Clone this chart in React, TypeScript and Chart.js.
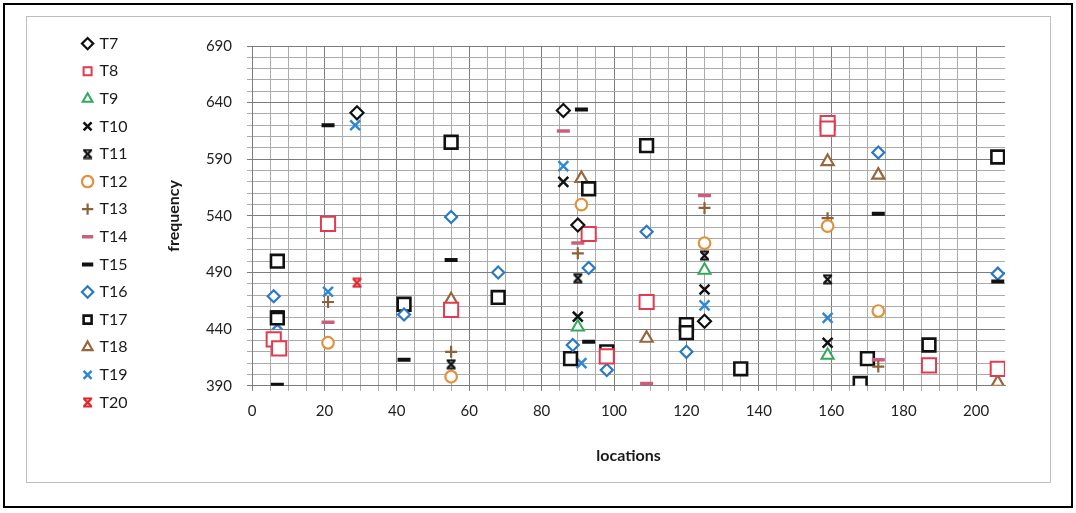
import React, { useEffect, useRef } from 'react';
import { Chart, registerables } from 'chart.js';

Chart.register(...registerables);

// ---- data (location, frequency) per series ----
const t7Loc = [29, 86, 90, 125];
const t7Freq = [631, 633, 532, 447];
const t8Loc = [6, 7.5, 21, 55, 93, 98, 109, 159, 159, 187, 206];
const t8Freq = [431, 423, 533, 457, 524, 416, 464, 622, 617, 408, 405];
const t9Loc = [90, 125, 159];
const t9Freq = [442, 492, 417];
const t10Loc = [86, 90, 125, 159];
const t10Freq = [570, 451, 475, 428];
const t11Loc = [55, 90, 125, 159];
const t11Freq = [409, 485, 505, 484];
const t12Loc = [21, 55, 91, 125, 159, 173];
const t12Freq = [428, 398, 550, 516, 531, 456];
const t13Loc = [21, 55, 90, 125, 159, 173];
const t13Freq = [464, 420, 507, 547, 538, 407];
const t14Loc = [21, 86, 90, 109, 125, 173];
const t14Freq = [446, 615, 516, 392, 558, 413];
const t15Loc = [7, 7, 21, 42, 55, 91, 93, 109, 173, 206];
const t15Freq = [455, 391, 620, 413, 501, 634, 429, 460, 542, 482];
const t16Loc = [6, 42, 55, 68, 88.6, 93, 98, 109, 120, 173, 206];
const t16Freq = [469, 453, 539, 490, 426, 494, 404, 526, 420, 596, 489];
const t17Loc = [7, 7, 42, 55, 68, 88, 93, 98, 109, 120, 120, 135, 168, 170, 187, 206];
const t17Freq = [500, 450, 462, 605, 468, 414, 564, 420, 602, 444, 437, 405, 392, 414, 426, 592];
const t18Loc = [55, 91, 109, 159, 173, 206];
const t18Freq = [466, 573, 432, 588, 576, 393];
const t19Loc = [7, 21, 28.5, 86, 91, 125, 159];
const t19Freq = [444, 473, 620, 584, 410, 461, 450];
const t20Loc = [29];
const t20Freq = [481];

const xTicksMin = 0;
const xTicksMax = 208;
const yTicksMin = 390;
const yTicksMax = 690;

const FONT = 'Lato, "Noto Sans", sans-serif';
const MAJOR = '#7c7c7c';
const MINOR = '#ababab';

function pts(xs: number[], ys: number[]) {
  return xs.map((x, i) => ({ x, y: ys[i] }));
}

function makeBowtie(color: string): HTMLCanvasElement {
  const c = document.createElement('canvas');
  c.width = 11;
  c.height = 11;
  const g = c.getContext('2d')!;
  g.strokeStyle = color;
  g.lineWidth = 2.4;
  g.beginPath();
  g.moveTo(2, 2);
  g.lineTo(9, 9);
  g.moveTo(9, 2);
  g.lineTo(2, 9);
  g.stroke();
  g.lineWidth = 2;
  g.beginPath();
  g.moveTo(1, 1.5);
  g.lineTo(10, 1.5);
  g.moveTo(1, 9.5);
  g.lineTo(10, 9.5);
  g.stroke();
  return c;
}

export default function App() {
  const ref = useRef<HTMLCanvasElement | null>(null);

  useEffect(() => {
    if (!ref.current) return;
    const bowBlack = makeBowtie('#111');
    const bowRed = makeBowtie('#e0202a');

    const ds = (label: string, xs: number[], ys: number[], style: any, color: string, fill: string, radius: number, bw: number) => ({
      label,
      data: pts(xs, ys),
      pointStyle: style,
      borderColor: color,
      backgroundColor: fill,
      pointRadius: radius,
      pointHoverRadius: radius,
      borderWidth: bw,
      pointBorderWidth: bw,
    });

    const chart = new Chart(ref.current, {
      type: 'scatter',
      data: {
        datasets: [
          ds('T7', t7Loc, t7Freq, 'rectRot', '#111111', '#ffffff', 6.5, 2.2),
          ds('T8', t8Loc, t8Freq, 'rect', '#e23a4e', '#ffffff', 10, 2),
          ds('T9', t9Loc, t9Freq, 'triangle', '#2eaa58', '#ffffff', 7, 2),
          ds('T10', t10Loc, t10Freq, 'crossRot', '#111111', '#111111', 7, 2.5),
          ds('T11', t11Loc, t11Freq, bowBlack, '#111111', '#111111', 6, 2),
          ds('T12', t12Loc, t12Freq, 'circle', '#e0923c', '#ffffff', 5.8, 2.2),
          ds('T13', t13Loc, t13Freq, 'cross', '#8c6239', '#8c6239', 6, 2.2),
          ds('T14', t14Loc, t14Freq, 'line', '#c8607c', '#c8607c', 6.5, 3.5),
          ds('T15', t15Loc, t15Freq, 'line', '#111111', '#111111', 6.5, 4),
          ds('T16', t16Loc, t16Freq, 'rectRot', '#2a78c6', '#ffffff', 6, 2.2),
          ds('T17', t17Loc, t17Freq, 'rect', '#111111', '#ffffff', 9, 2.6),
          ds('T18', t18Loc, t18Freq, 'triangle', '#98663a', '#ffffff', 7, 2.2),
          ds('T19', t19Loc, t19Freq, 'crossRot', '#2f88d4', '#2f88d4', 7, 2.5),
          ds('T20', t20Loc, t20Freq, bowRed, '#e0202a', '#e0202a', 6, 2),
        ],
      },
      options: {
        responsive: false,
        animation: false,
        layout: { padding: { left: 45, top: 7, right: 45, bottom: 0 } },
        plugins: {
          tooltip: { enabled: false },
          title: {
            display: true,
            text: ' ',
            position: 'top',
            fullSize: false,
            font: { size: 10 },
            padding: { top: 10, bottom: 0 },
          },
          legend: {
            position: 'left',
            align: 'start',
            labels: {
              usePointStyle: true,
              boxWidth: 8,
              boxHeight: 8,
              padding: 11.6,
              color: '#1a1a1a',
              font: { family: FONT, size: 16 },
            },
          },
        },
        scales: {
          x: {
            type: 'linear',
            min: xTicksMin,
            max: xTicksMax,
            ticks: {
              stepSize: 5,
              maxTicksLimit: 1000,
              autoSkip: false,
              maxRotation: 0,
              padding: 11,
              color: '#222',
              font: { family: FONT, size: 15 },
              callback: (v: any) => (Number(v) % 20 === 0 ? String(v) : ' '),
            },
            grid: {
              color: (c: any) => {
                const v = c.tick ? c.tick.value : 0;
                if (v === xTicksMax) return 'rgba(0,0,0,0)';
                return v % 20 === 0 ? MAJOR : MINOR;
              },
              tickLength: 5,
            },
            border: { color: MAJOR },
            title: {
              display: true,
              text: 'locations',
              color: '#1a1a1a',
              font: { family: FONT, size: 16, weight: 'bold' },
              padding: { top: 15, bottom: 17 },
            },
          },
          y: {
            type: 'linear',
            min: yTicksMin,
            max: yTicksMax,
            afterFit: (s: any) => {
              const lw = s.chart.legend ? s.chart.legend.width : 0;
              s.width = 225 - 45 - lw;
            },
            ticks: {
              stepSize: 10,
              maxTicksLimit: 1000,
              autoSkip: false,
              padding: 15,
              color: '#222',
              font: { family: FONT, size: 15 },
              callback: (v: any) => ((Number(v) - yTicksMin) % 50 === 0 ? String(v) : ' '),
            },
            grid: {
              color: (c: any) => {
                const v = c.tick ? c.tick.value : 0;
                return (v - yTicksMin) % 50 === 0 ? MAJOR : MINOR;
              },
              tickLength: 5,
            },
            border: { color: MAJOR },
            title: {
              display: true,
              text: 'frequency',
              color: '#1a1a1a',
              font: { family: FONT, size: 16, weight: 'bold' },
              padding: { top: 27, bottom: 0 },
            },
          },
        },
      },
    });
    return () => chart.destroy();
  }, []);

  return (
    <div style={{ position: 'fixed', left: 0, top: 0, width: 1076, height: 513, background: '#fff' }}>
      <div
        style={{
          position: 'absolute',
          left: 3,
          top: 3,
          width: 1070,
          height: 505,
          border: '2px solid #000',
          boxSizing: 'border-box',
        }}
      />
      <div
        style={{
          position: 'absolute',
          left: 26,
          top: 16,
          width: 1023,
          height: 465,
          border: '1px solid #bdbdbd',
        }}
      >
        <canvas ref={ref} width={1023} height={465} style={{ display: 'block', width: 1023, height: 465 }} />
      </div>
    </div>
  );
}
